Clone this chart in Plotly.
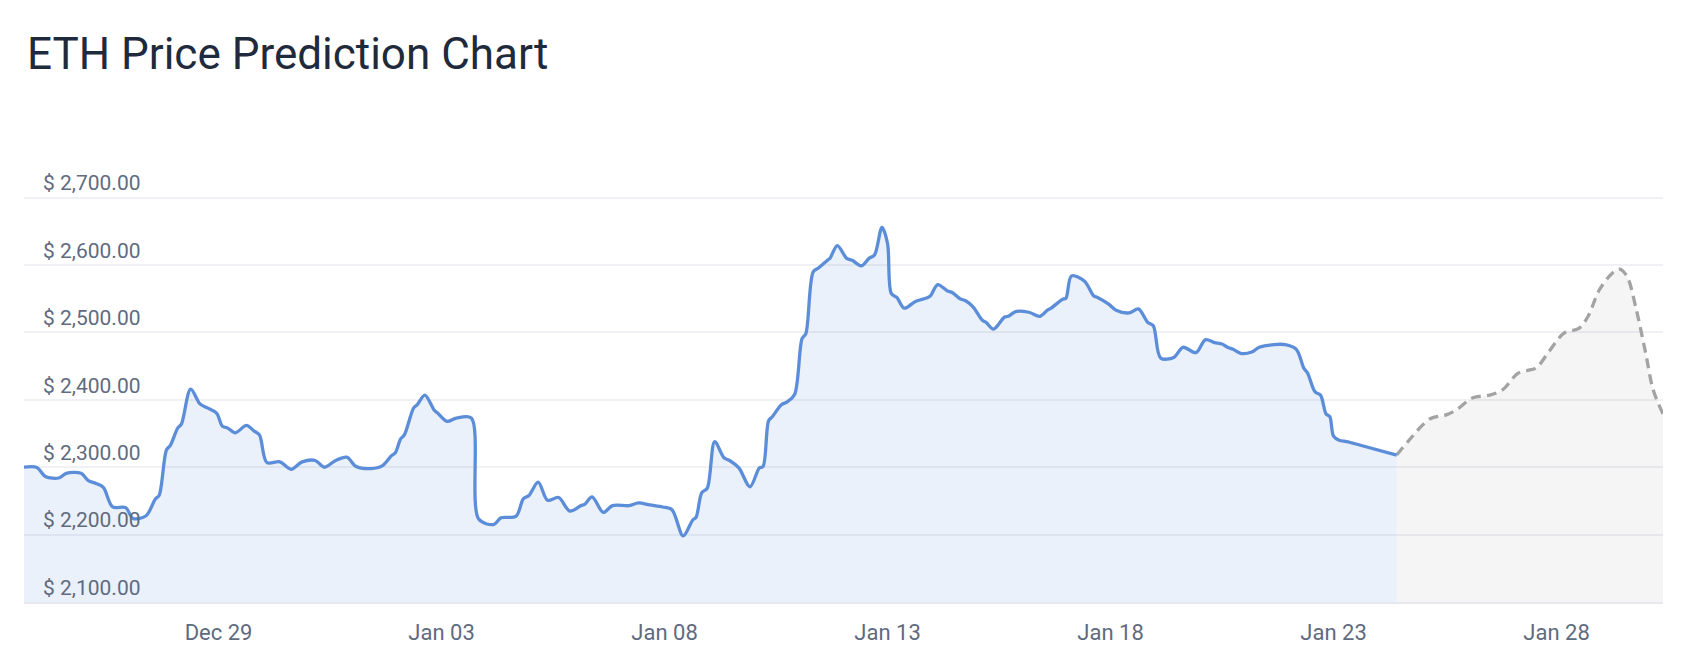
import plotly.graph_objects as go

# ---- data -------------------------------------------------------------
hist_time = [
    "2023-12-24 15:00", "2023-12-24 22:00", "2023-12-25 03:00", "2023-12-25 10:00", "2023-12-25 14:00",
    "2023-12-25 22:00", "2023-12-26 02:00", "2023-12-26 06:00", "2023-12-26 10:00", "2023-12-26 15:00",
    "2023-12-26 22:00", "2023-12-27 02:00", "2023-12-27 09:00", "2023-12-27 14:00", "2023-12-27 16:00",
    "2023-12-27 20:00", "2023-12-27 22:00", "2023-12-28 02:00", "2023-12-28 04:00", "2023-12-28 09:00",
    "2023-12-28 14:00", "2023-12-28 18:00", "2023-12-28 23:00", "2023-12-29 02:00", "2023-12-29 05:00",
    "2023-12-29 09:00", "2023-12-29 15:00", "2023-12-29 19:00", "2023-12-29 22:00", "2023-12-30 02:00",
    "2023-12-30 09:00", "2023-12-30 15:00", "2023-12-30 21:00", "2023-12-31 04:00", "2023-12-31 09:00",
    "2023-12-31 15:00", "2023-12-31 21:00", "2024-01-01 02:00", "2024-01-01 10:00", "2024-01-01 16:00",
    "2024-01-01 21:00", "2024-01-01 23:00", "2024-01-02 02:00", "2024-01-02 04:00", "2024-01-02 09:00",
    "2024-01-02 11:00", "2024-01-02 15:00", "2024-01-02 20:00", "2024-01-02 22:00", "2024-01-03 03:00",
    "2024-01-03 08:00", "2024-01-03 16:00", "2024-01-03 20:00", "2024-01-04 04:00", "2024-01-04 08:00",
    "2024-01-04 16:00", "2024-01-04 20:00", "2024-01-04 23:00", "2024-01-05 04:00", "2024-01-05 09:00",
    "2024-01-05 15:00", "2024-01-05 21:00", "2024-01-06 03:00", "2024-01-06 05:00", "2024-01-06 09:00",
    "2024-01-06 15:00", "2024-01-06 20:00", "2024-01-07 05:00", "2024-01-07 10:00", "2024-01-07 16:00",
    "2024-01-07 23:00", "2024-01-08 04:00", "2024-01-08 10:00", "2024-01-08 15:00", "2024-01-08 17:00",
    "2024-01-08 20:00", "2024-01-08 23:00", "2024-01-09 03:00", "2024-01-09 08:00", "2024-01-09 11:00",
    "2024-01-09 16:00", "2024-01-09 22:00", "2024-01-10 03:00", "2024-01-10 05:00", "2024-01-10 08:00",
    "2024-01-10 10:00", "2024-01-10 15:00", "2024-01-10 18:00", "2024-01-10 22:00", "2024-01-11 02:00",
    "2024-01-11 04:00", "2024-01-11 08:00", "2024-01-11 11:00", "2024-01-11 16:00", "2024-01-11 17:00",
    "2024-01-11 21:00", "2024-01-12 02:00", "2024-01-12 05:00", "2024-01-12 10:00", "2024-01-12 14:00",
    "2024-01-12 17:00", "2024-01-12 21:00", "2024-01-13 00:00", "2024-01-13 02:00", "2024-01-13 05:00",
    "2024-01-13 09:00", "2024-01-13 15:00", "2024-01-13 21:00", "2024-01-13 23:00", "2024-01-14 03:00",
    "2024-01-14 08:00", "2024-01-14 11:00", "2024-01-14 15:00", "2024-01-14 18:00", "2024-01-14 22:00",
    "2024-01-15 03:00", "2024-01-15 05:00", "2024-01-15 09:00", "2024-01-15 15:00", "2024-01-15 17:00",
    "2024-01-15 21:00", "2024-01-16 04:00", "2024-01-16 10:00", "2024-01-16 14:00", "2024-01-16 16:00",
    "2024-01-16 22:00", "2024-01-17 00:00", "2024-01-17 03:00", "2024-01-17 10:00", "2024-01-17 15:00",
    "2024-01-17 17:00", "2024-01-17 23:00", "2024-01-18 03:00", "2024-01-18 10:00", "2024-01-18 15:00",
    "2024-01-18 20:00", "2024-01-18 23:00", "2024-01-19 03:00", "2024-01-19 10:00", "2024-01-19 15:00",
    "2024-01-19 22:00", "2024-01-20 03:00", "2024-01-20 08:00", "2024-01-20 12:00", "2024-01-20 15:00",
    "2024-01-20 18:00", "2024-01-20 22:00", "2024-01-21 04:00", "2024-01-21 08:00", "2024-01-21 16:00",
    "2024-01-21 22:00", "2024-01-22 04:00", "2024-01-22 08:00", "2024-01-22 10:00", "2024-01-22 14:00",
    "2024-01-22 17:00", "2024-01-22 20:00", "2024-01-22 22:00", "2024-01-23 00:00", "2024-01-23 03:00",
    "2024-01-23 07:00", "2024-01-23 14:00", "2024-01-24 10:00",
]
hist_price = [
    2300, 2300, 2286, 2284, 2291,
    2291, 2280, 2276, 2270, 2241,
    2240, 2224, 2228, 2253, 2258,
    2326, 2332, 2358, 2364, 2416,
    2394, 2388, 2380, 2361, 2358,
    2351, 2362, 2354, 2348, 2307,
    2308, 2297, 2308, 2310, 2300,
    2310, 2315, 2301, 2298, 2302,
    2317, 2321, 2342, 2348, 2388,
    2393, 2407, 2385, 2380, 2368,
    2373, 2373, 2223, 2215, 2225,
    2227, 2253, 2258, 2278, 2251,
    2255, 2235, 2243, 2245, 2256,
    2233, 2243, 2243, 2247, 2244,
    2241, 2237, 2198, 2221, 2226,
    2262, 2269, 2338, 2314, 2310,
    2299, 2271, 2299, 2301, 2369,
    2375, 2393, 2397, 2408, 2491,
    2498, 2590, 2596, 2608, 2610,
    2629, 2610, 2607, 2599, 2610,
    2615, 2656, 2632, 2558, 2552,
    2536, 2546, 2551, 2554, 2571,
    2562, 2559, 2550, 2547, 2538,
    2518, 2515, 2505, 2523, 2524,
    2531, 2530, 2524, 2533, 2536,
    2549, 2551, 2584, 2576, 2554,
    2552, 2542, 2533, 2529, 2535,
    2515, 2510, 2462, 2463, 2478,
    2470, 2489, 2485, 2483, 2478,
    2475, 2469, 2471, 2478, 2482,
    2482, 2475, 2447, 2440, 2412,
    2407, 2379, 2375, 2346, 2340,
    2338, 2333, 2318,
]

forecast_time = [
    "2024-01-24 10:00", "2024-01-24 16:00", "2024-01-25 04:00", "2024-01-25 13:00", "2024-01-25 18:00",
    "2024-01-26 03:00", "2024-01-26 12:00", "2024-01-26 19:00", "2024-01-27 03:00", "2024-01-27 09:00",
    "2024-01-27 13:00", "2024-01-27 20:00", "2024-01-28 04:00", "2024-01-28 12:00", "2024-01-28 17:00",
    "2024-01-28 23:00", "2024-01-29 06:00", "2024-01-29 10:00", "2024-01-29 14:00", "2024-01-29 19:00",
    "2024-01-30 00:00", "2024-01-30 04:00", "2024-01-30 10:00",
]
forecast_price = [
    2318, 2338, 2372, 2378, 2385,
    2403, 2407, 2415, 2439, 2444,
    2447, 2472, 2499, 2506, 2524,
    2563, 2588, 2594, 2583, 2533,
    2469, 2415, 2375,
]

x_tick_dates = ["2023-12-29", "2024-01-03", "2024-01-08", "2024-01-13",
                "2024-01-18", "2024-01-23", "2024-01-28"]
x_tick_labels = ["Dec 29", "Jan 03", "Jan 08", "Jan 13", "Jan 18", "Jan 23", "Jan 28"]

title_text = "ETH Price Prediction Chart"

# ---- figure -----------------------------------------------------------
W, H = 1676, 652  # page body keeps an 8px margin

fig = go.Figure()

fig.add_trace(go.Scatter(
    x=forecast_time, y=forecast_price, mode="lines",
    line=dict(color="#a3a3a3", width=3.3, dash="10px,6px", shape="spline", smoothing=0.9),
    fill="tozeroy", fillcolor="rgba(0,0,0,0.04)",
    hoverinfo="skip", showlegend=False,
))
fig.add_trace(go.Scatter(
    x=hist_time, y=hist_price, mode="lines",
    line=dict(color="#5b8dd9", width=3.3, shape="spline", smoothing=0.9),
    fill="tozeroy", fillcolor="rgba(91,141,217,0.12)",
    showlegend=False,
))

fig.update_layout(
    width=W, height=H,
    margin=dict(l=16, r=21, t=156, b=58),
    paper_bgcolor="white", plot_bgcolor="white",
    font=dict(family="Roboto, sans-serif"),
    title=dict(
        text=title_text, x=19 / W, xanchor="left", xref="container",
        y=1 - 46 / H, yanchor="middle", yref="container",
        font=dict(size=44, color="#1f2a3d", family="Roboto, sans-serif"),
    ),
    showlegend=False,
)

fig.update_xaxes(
    type="date",
    range=["2023-12-24 15:18", "2024-01-30 09:18"],
    tickmode="array", tickvals=x_tick_dates, ticktext=x_tick_labels,
    tickfont=dict(size=22, color="#606b80"),
    showgrid=False, zeroline=False,
    showline=True, linecolor="#e6e8ec", linewidth=2,
    ticks="", ticklabelstandoff=10,
)

fig.update_yaxes(
    range=[2100, 2750], tick0=2100, dtick=100,
    tickprefix="$ ", tickformat=",.2f",
    tickfont=dict(size=21, color="#606b80"),
    ticklabelposition="inside top", ticklabelstandoff=16,
    showgrid=True, gridcolor="#f0f1f4", gridwidth=1.5,
    zeroline=False, showline=False, ticks="",
)

fig.write_html("out.html")
